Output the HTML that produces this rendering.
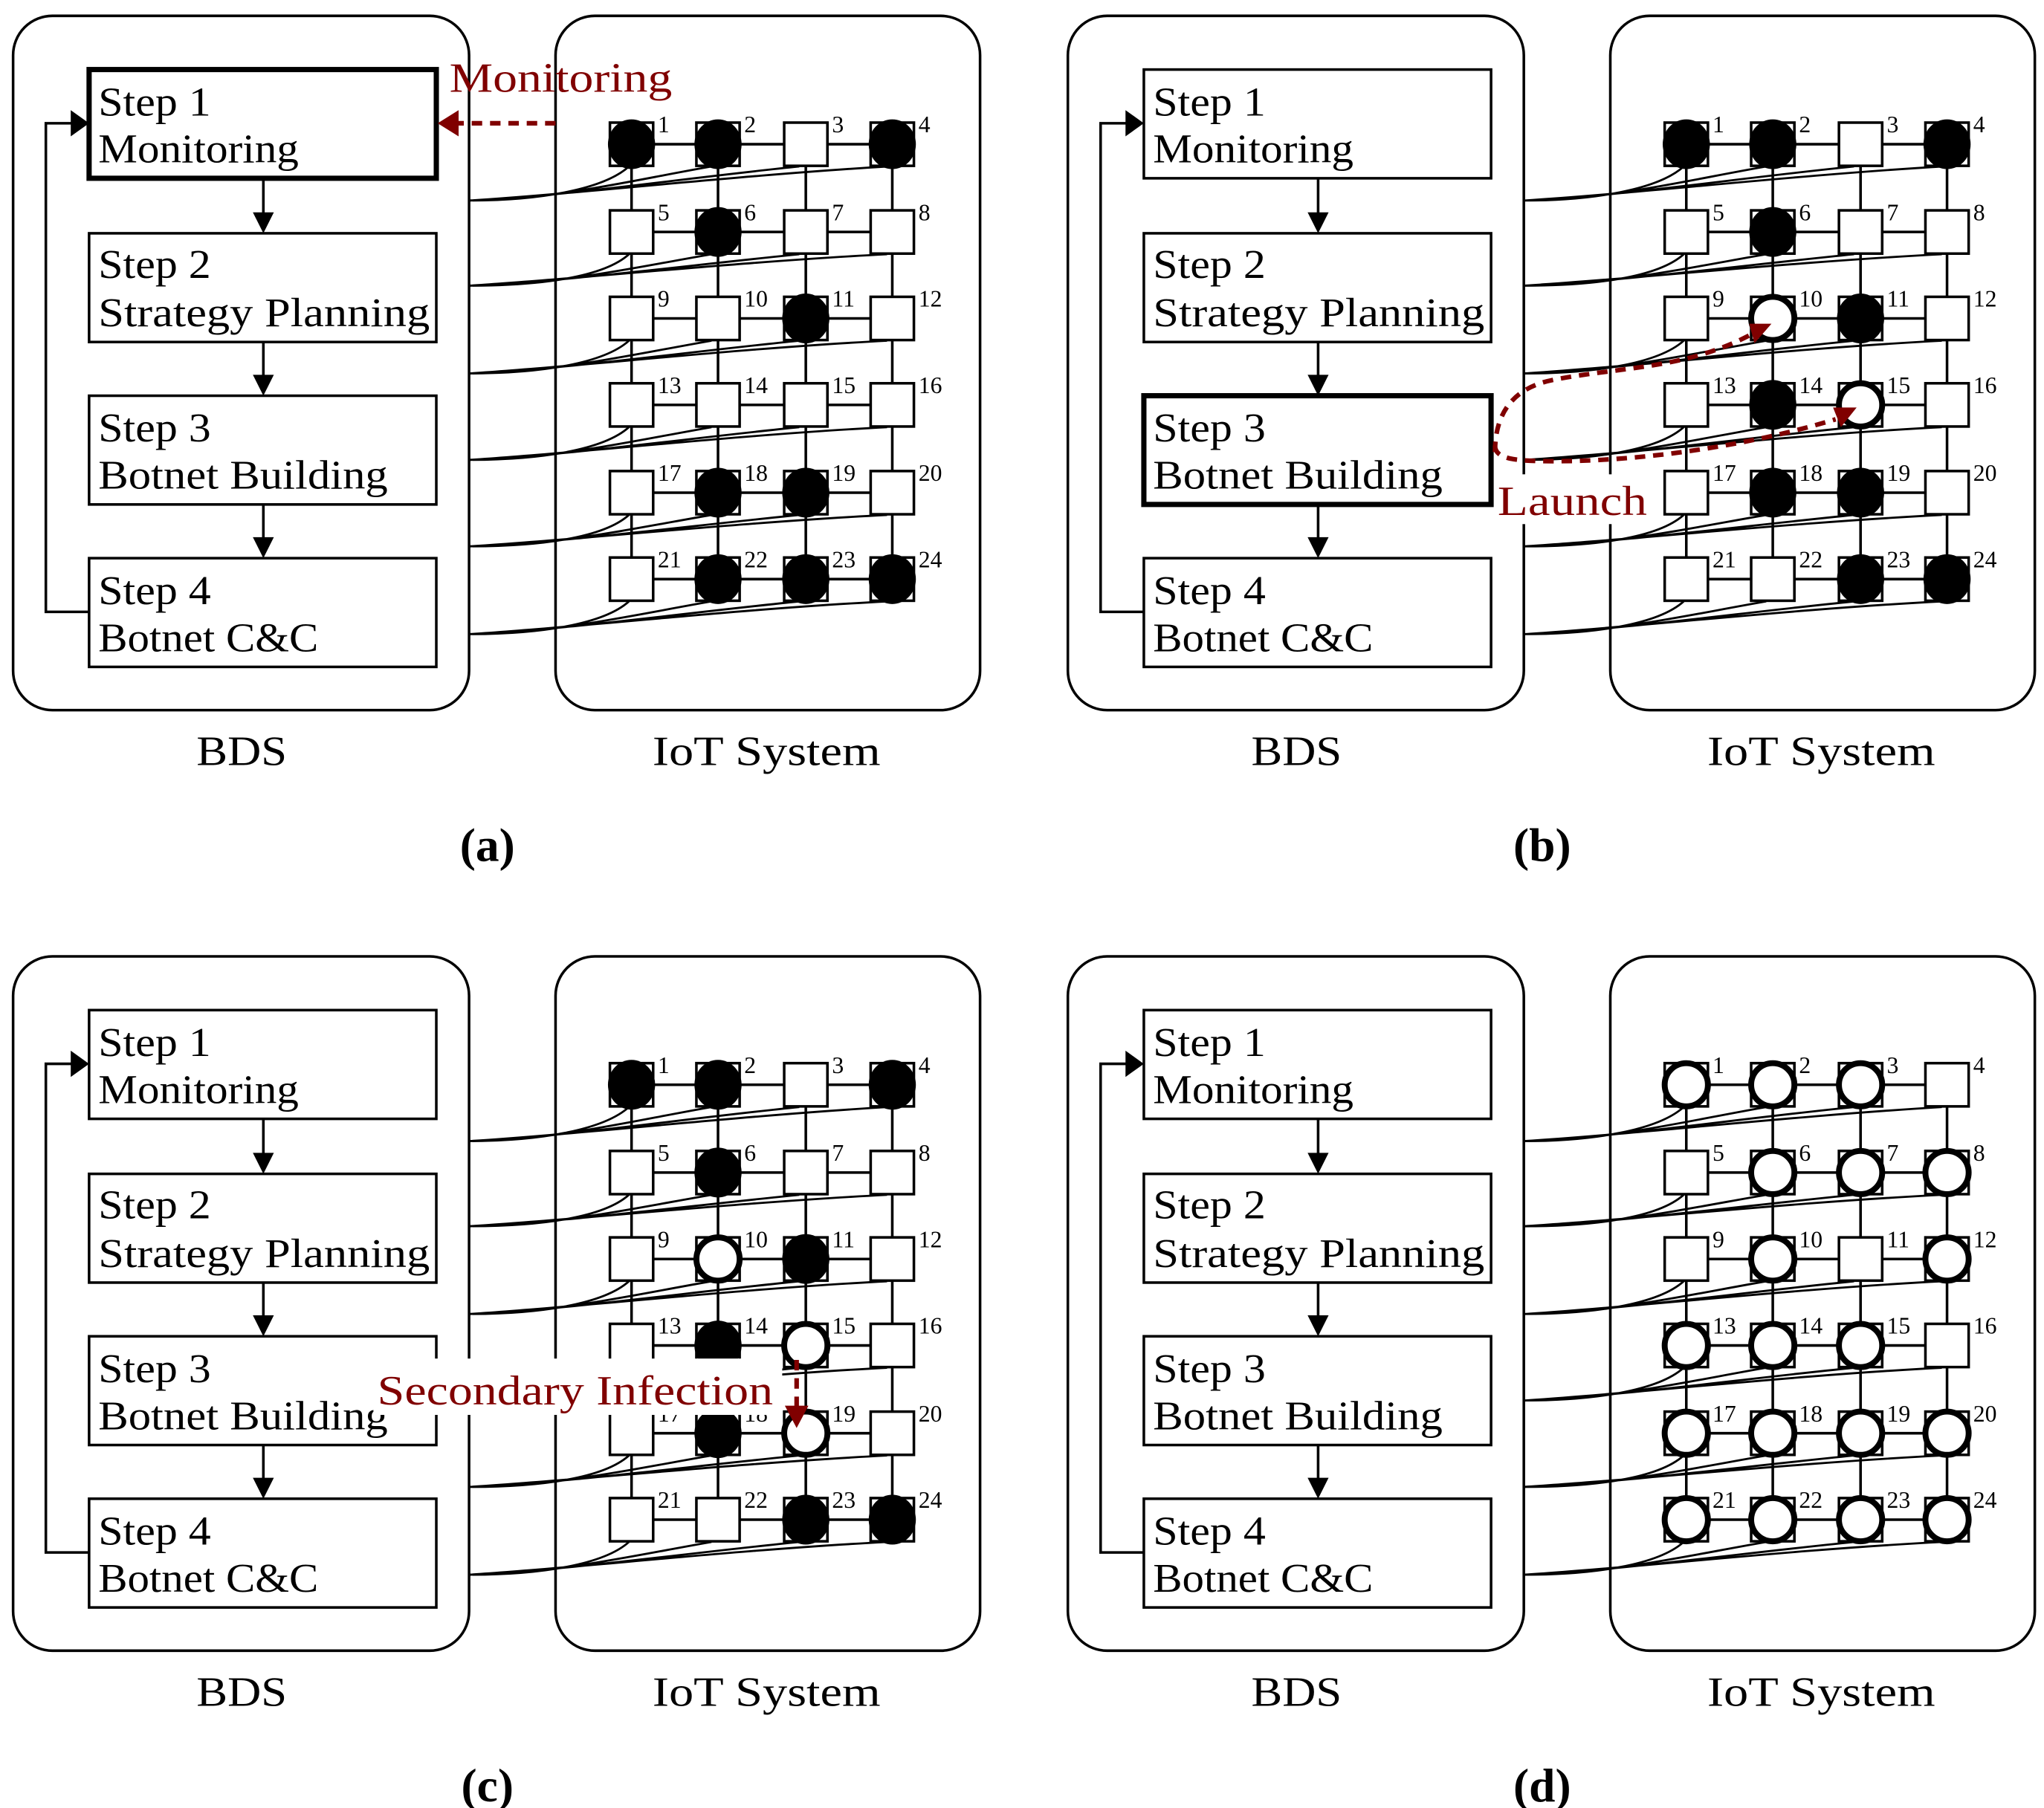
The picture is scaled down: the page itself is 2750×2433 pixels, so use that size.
<!DOCTYPE html>
<html><head><meta charset="utf-8"><style>
html,body{margin:0;padding:0;background:#fff}
svg{display:block}
text{font-family:"Liberation Serif",serif}
.n{font-size:18px}
.s{font-size:31px}
</style></head><body>
<svg width="2750" height="2433" viewBox="0 0 1560 1380" xmlns="http://www.w3.org/2000/svg">
<defs>
<g id="sq"><rect x="-16.5" y="-16.5" width="33" height="33" fill="#fff" stroke="#000" stroke-width="2"/></g>
<g id="fc"><rect x="-16.5" y="-16.5" width="33" height="33" fill="#fff" stroke="#000" stroke-width="2"/><ellipse rx="18" ry="19" fill="#000"/></g>
<g id="oc"><rect x="-16.5" y="-16.5" width="33" height="33" fill="#fff" stroke="#000" stroke-width="2"/><circle r="16.5" fill="#fff" stroke="#000" stroke-width="4.5"/></g>
<g id="base" fill="none" stroke="#000" stroke-width="2">
<rect x="10" y="12" width="348" height="530" rx="30"/>
<rect x="424" y="12" width="324" height="530" rx="30"/>
<rect x="68" y="178" width="265" height="83" fill="#fff"/>
<rect x="68" y="426" width="265" height="83" fill="#fff"/>
<line x1="201" y1="136" x2="201" y2="165"/><polygon points="193,162 209,162 201,178" fill="#000" stroke="none"/>
<line x1="201" y1="261" x2="201" y2="289"/><polygon points="193,286 209,286 201,302" fill="#000" stroke="none"/>
<line x1="201" y1="385" x2="201" y2="413"/><polygon points="193,410 209,410 201,426" fill="#000" stroke="none"/>
<polyline points="68,467 35,467 35,94 56,94"/><polygon points="54,84 54,104 68,94" fill="#000" stroke="none"/>
<path d="M482 110H681M482 177H681M482 243H681M482 309H681M482 376H681M482 442H681M482 110V442M548 110V442M615 110V442M681 110V442"/>
<g stroke-width="1.6">
<path d="M358 153C410 153 460 145 480 127M358 153C420 153 480 138 543 127M358 153C430 150 520 136 610 127M358 153C440 148 560 134 677 127"/>
<path d="M358 218C410 218 460 212 480 194M358 218C420 218 480 205 543 194M358 218C430 215 520 203 610 194M358 218C440 213 560 200 677 194"/>
<path d="M358 285C410 285 460 278 480 260M358 285C420 285 480 271 543 260M358 285C430 282 520 269 610 260M358 285C440 280 560 266 677 260"/>
<path d="M358 351C410 351 460 344 480 326M358 351C420 351 480 337 543 326M358 351C430 348 520 335 610 326M358 351C440 346 560 332 677 326"/>
<path d="M358 417C410 417 460 411 480 393M358 417C420 417 480 404 543 393M358 417C430 414 520 402 610 393M358 417C440 412 560 399 677 393"/>
<path d="M358 484C410 484 460 477 480 459M358 484C420 484 480 470 543 459M358 484C430 481 520 468 610 459M358 484C440 479 560 465 677 459"/>
</g>
</g>
</defs>

<!-- ============ (a) ============ -->
<g>
<use href="#base"/>
<rect x="68" y="53" width="265" height="83" fill="#fff" stroke="#000" stroke-width="4"/>
<rect x="68" y="302" width="265" height="83" fill="#fff" stroke="#000" stroke-width="2"/>
<text class="s" x="75" y="88" textLength="86" lengthAdjust="spacingAndGlyphs">Step 1</text><text class="s" x="75" y="124" textLength="153" lengthAdjust="spacingAndGlyphs">Monitoring</text>
<text class="s" x="75" y="212" textLength="86" lengthAdjust="spacingAndGlyphs">Step 2</text><text class="s" x="75" y="249" textLength="253" lengthAdjust="spacingAndGlyphs">Strategy Planning</text>
<text class="s" x="75" y="337" textLength="86" lengthAdjust="spacingAndGlyphs">Step 3</text><text class="s" x="75" y="373" textLength="221" lengthAdjust="spacingAndGlyphs">Botnet Building</text>
<text class="s" x="75" y="461" textLength="86" lengthAdjust="spacingAndGlyphs">Step 4</text><text class="s" x="75" y="497" textLength="168" lengthAdjust="spacingAndGlyphs">Botnet C&amp;C</text>
<line x1="424" y1="94" x2="348" y2="94" stroke="#800000" stroke-width="3.5" stroke-dasharray="8,6"/>
<polygon points="350,84 350,104 334,94" fill="#800000"/>
<text x="343" y="70" font-size="32" fill="#800000" textLength="170" lengthAdjust="spacingAndGlyphs">Monitoring</text>
<use href="#fc" x="482" y="110"/><use href="#fc" x="548" y="110"/><use href="#sq" x="615" y="110"/><use href="#fc" x="681" y="110"/>
<use href="#sq" x="482" y="177"/><use href="#fc" x="548" y="177"/><use href="#sq" x="615" y="177"/><use href="#sq" x="681" y="177"/>
<use href="#sq" x="482" y="243"/><use href="#sq" x="548" y="243"/><use href="#fc" x="615" y="243"/><use href="#sq" x="681" y="243"/>
<use href="#sq" x="482" y="309"/><use href="#sq" x="548" y="309"/><use href="#sq" x="615" y="309"/><use href="#sq" x="681" y="309"/>
<use href="#sq" x="482" y="376"/><use href="#fc" x="548" y="376"/><use href="#fc" x="615" y="376"/><use href="#sq" x="681" y="376"/>
<use href="#sq" x="482" y="442"/><use href="#fc" x="548" y="442"/><use href="#fc" x="615" y="442"/><use href="#fc" x="681" y="442"/>
<text x="502" y="101" class="n">1</text><text x="568" y="101" class="n">2</text><text x="635" y="101" class="n">3</text><text x="701" y="101" class="n">4</text>
<text x="502" y="168" class="n">5</text><text x="568" y="168" class="n">6</text><text x="635" y="168" class="n">7</text><text x="701" y="168" class="n">8</text>
<text x="502" y="234" class="n">9</text><text x="568" y="234" class="n">10</text><text x="635" y="234" class="n">11</text><text x="701" y="234" class="n">12</text>
<text x="502" y="300" class="n">13</text><text x="568" y="300" class="n">14</text><text x="635" y="300" class="n">15</text><text x="701" y="300" class="n">16</text>
<text x="502" y="367" class="n">17</text><text x="568" y="367" class="n">18</text><text x="635" y="367" class="n">19</text><text x="701" y="367" class="n">20</text>
<text x="502" y="433" class="n">21</text><text x="568" y="433" class="n">22</text><text x="635" y="433" class="n">23</text><text x="701" y="433" class="n">24</text>
<text x="150" y="584" font-size="32" textLength="69" lengthAdjust="spacingAndGlyphs">BDS</text>
<text x="498" y="584" font-size="32" textLength="174" lengthAdjust="spacingAndGlyphs">IoT System</text>
<text x="372" y="657" font-size="36" font-weight="bold" text-anchor="middle">(a)</text>
</g>

<!-- ============ (b) ============ -->
<g transform="translate(805,0)">
<use href="#base"/>
<rect x="68" y="53" width="265" height="83" fill="#fff" stroke="#000" stroke-width="2"/>
<rect x="68" y="302" width="265" height="83" fill="#fff" stroke="#000" stroke-width="4"/>
<text class="s" x="75" y="88" textLength="86" lengthAdjust="spacingAndGlyphs">Step 1</text><text class="s" x="75" y="124" textLength="153" lengthAdjust="spacingAndGlyphs">Monitoring</text>
<text class="s" x="75" y="212" textLength="86" lengthAdjust="spacingAndGlyphs">Step 2</text><text class="s" x="75" y="249" textLength="253" lengthAdjust="spacingAndGlyphs">Strategy Planning</text>
<text class="s" x="75" y="337" textLength="86" lengthAdjust="spacingAndGlyphs">Step 3</text><text class="s" x="75" y="373" textLength="221" lengthAdjust="spacingAndGlyphs">Botnet Building</text>
<text class="s" x="75" y="461" textLength="86" lengthAdjust="spacingAndGlyphs">Step 4</text><text class="s" x="75" y="497" textLength="168" lengthAdjust="spacingAndGlyphs">Botnet C&amp;C</text>
<use href="#fc" x="482" y="110"/><use href="#fc" x="548" y="110"/><use href="#sq" x="615" y="110"/><use href="#fc" x="681" y="110"/>
<use href="#sq" x="482" y="177"/><use href="#fc" x="548" y="177"/><use href="#sq" x="615" y="177"/><use href="#sq" x="681" y="177"/>
<use href="#sq" x="482" y="243"/><use href="#oc" x="548" y="243"/><use href="#fc" x="615" y="243"/><use href="#sq" x="681" y="243"/>
<use href="#sq" x="482" y="309"/><use href="#fc" x="548" y="309"/><use href="#oc" x="615" y="309"/><use href="#sq" x="681" y="309"/>
<use href="#sq" x="482" y="376"/><use href="#fc" x="548" y="376"/><use href="#fc" x="615" y="376"/><use href="#sq" x="681" y="376"/>
<use href="#sq" x="482" y="442"/><use href="#sq" x="548" y="442"/><use href="#fc" x="615" y="442"/><use href="#fc" x="681" y="442"/>
<text x="502" y="101" class="n">1</text><text x="568" y="101" class="n">2</text><text x="635" y="101" class="n">3</text><text x="701" y="101" class="n">4</text>
<text x="502" y="168" class="n">5</text><text x="568" y="168" class="n">6</text><text x="635" y="168" class="n">7</text><text x="701" y="168" class="n">8</text>
<text x="502" y="234" class="n">9</text><text x="568" y="234" class="n">10</text><text x="635" y="234" class="n">11</text><text x="701" y="234" class="n">12</text>
<text x="502" y="300" class="n">13</text><text x="568" y="300" class="n">14</text><text x="635" y="300" class="n">15</text><text x="701" y="300" class="n">16</text>
<text x="502" y="367" class="n">17</text><text x="568" y="367" class="n">18</text><text x="635" y="367" class="n">19</text><text x="701" y="367" class="n">20</text>
<text x="502" y="433" class="n">21</text><text x="568" y="433" class="n">22</text><text x="635" y="433" class="n">23</text><text x="701" y="433" class="n">24</text>
<rect x="338" y="362" width="116" height="38" fill="#fff"/>
<text x="338" y="393" font-size="32" fill="#800000" textLength="114" lengthAdjust="spacingAndGlyphs">Launch</text>
<g fill="none" stroke="#800000" stroke-width="3.5" stroke-dasharray="8,6">
<path d="M336 345C336 310 355 295 380 290C430 280 480 282 530 256"/>
<path d="M336 340C336 350 350 352 380 352C450 352 530 340 596 320"/>
</g>
<polygon points="530,247 547,247 534,262" fill="#800000"/>
<polygon points="594,311 612,311 600,326" fill="#800000"/>
<text x="150" y="584" font-size="32" textLength="69" lengthAdjust="spacingAndGlyphs">BDS</text>
<text x="498" y="584" font-size="32" textLength="174" lengthAdjust="spacingAndGlyphs">IoT System</text>
<text x="372" y="657" font-size="36" font-weight="bold" text-anchor="middle">(b)</text>
</g>

<!-- ============ (c) ============ -->
<g transform="translate(0,718)">
<use href="#base"/>
<rect x="68" y="53" width="265" height="83" fill="#fff" stroke="#000" stroke-width="2"/>
<rect x="68" y="302" width="265" height="83" fill="#fff" stroke="#000" stroke-width="2"/>
<text class="s" x="75" y="88" textLength="86" lengthAdjust="spacingAndGlyphs">Step 1</text><text class="s" x="75" y="124" textLength="153" lengthAdjust="spacingAndGlyphs">Monitoring</text>
<text class="s" x="75" y="212" textLength="86" lengthAdjust="spacingAndGlyphs">Step 2</text><text class="s" x="75" y="249" textLength="253" lengthAdjust="spacingAndGlyphs">Strategy Planning</text>
<text class="s" x="75" y="337" textLength="86" lengthAdjust="spacingAndGlyphs">Step 3</text><text class="s" x="75" y="373" textLength="221" lengthAdjust="spacingAndGlyphs">Botnet Building</text>
<text class="s" x="75" y="461" textLength="86" lengthAdjust="spacingAndGlyphs">Step 4</text><text class="s" x="75" y="497" textLength="168" lengthAdjust="spacingAndGlyphs">Botnet C&amp;C</text>
<use href="#fc" x="482" y="110"/><use href="#fc" x="548" y="110"/><use href="#sq" x="615" y="110"/><use href="#fc" x="681" y="110"/>
<use href="#sq" x="482" y="177"/><use href="#fc" x="548" y="177"/><use href="#sq" x="615" y="177"/><use href="#sq" x="681" y="177"/>
<use href="#sq" x="482" y="243"/><use href="#oc" x="548" y="243"/><use href="#fc" x="615" y="243"/><use href="#sq" x="681" y="243"/>
<use href="#sq" x="482" y="309"/><use href="#fc" x="548" y="309"/><use href="#oc" x="615" y="309"/><use href="#sq" x="681" y="309"/>
<use href="#sq" x="482" y="376"/><use href="#fc" x="548" y="376"/><use href="#oc" x="615" y="376"/><use href="#sq" x="681" y="376"/>
<use href="#sq" x="482" y="442"/><use href="#sq" x="548" y="442"/><use href="#fc" x="615" y="442"/><use href="#fc" x="681" y="442"/>
<text x="502" y="101" class="n">1</text><text x="568" y="101" class="n">2</text><text x="635" y="101" class="n">3</text><text x="701" y="101" class="n">4</text>
<text x="502" y="168" class="n">5</text><text x="568" y="168" class="n">6</text><text x="635" y="168" class="n">7</text><text x="701" y="168" class="n">8</text>
<text x="502" y="234" class="n">9</text><text x="568" y="234" class="n">10</text><text x="635" y="234" class="n">11</text><text x="701" y="234" class="n">12</text>
<text x="502" y="300" class="n">13</text><text x="568" y="300" class="n">14</text><text x="635" y="300" class="n">15</text><text x="701" y="300" class="n">16</text>
<text x="502" y="367" class="n">17</text><text x="568" y="367" class="n">18</text><text x="635" y="367" class="n">19</text><text x="701" y="367" class="n">20</text>
<text x="502" y="433" class="n">21</text><text x="568" y="433" class="n">22</text><text x="635" y="433" class="n">23</text><text x="701" y="433" class="n">24</text>
<rect x="285" y="319" width="312" height="43" fill="#fff"/>
<text x="288" y="354" font-size="32" fill="#800000" textLength="302" lengthAdjust="spacingAndGlyphs">Secondary Infection</text>
<line x1="608" y1="320" x2="608" y2="356" stroke="#800000" stroke-width="3.5" stroke-dasharray="8,6"/>
<polygon points="599,355 617,355 608,372" fill="#800000"/>
<text x="150" y="584" font-size="32" textLength="69" lengthAdjust="spacingAndGlyphs">BDS</text>
<text x="498" y="584" font-size="32" textLength="174" lengthAdjust="spacingAndGlyphs">IoT System</text>
<text x="372" y="657" font-size="36" font-weight="bold" text-anchor="middle">(c)</text>
</g>

<!-- ============ (d) ============ -->
<g transform="translate(805,718)">
<use href="#base"/>
<rect x="68" y="53" width="265" height="83" fill="#fff" stroke="#000" stroke-width="2"/>
<rect x="68" y="302" width="265" height="83" fill="#fff" stroke="#000" stroke-width="2"/>
<text class="s" x="75" y="88" textLength="86" lengthAdjust="spacingAndGlyphs">Step 1</text><text class="s" x="75" y="124" textLength="153" lengthAdjust="spacingAndGlyphs">Monitoring</text>
<text class="s" x="75" y="212" textLength="86" lengthAdjust="spacingAndGlyphs">Step 2</text><text class="s" x="75" y="249" textLength="253" lengthAdjust="spacingAndGlyphs">Strategy Planning</text>
<text class="s" x="75" y="337" textLength="86" lengthAdjust="spacingAndGlyphs">Step 3</text><text class="s" x="75" y="373" textLength="221" lengthAdjust="spacingAndGlyphs">Botnet Building</text>
<text class="s" x="75" y="461" textLength="86" lengthAdjust="spacingAndGlyphs">Step 4</text><text class="s" x="75" y="497" textLength="168" lengthAdjust="spacingAndGlyphs">Botnet C&amp;C</text>
<use href="#oc" x="482" y="110"/><use href="#oc" x="548" y="110"/><use href="#oc" x="615" y="110"/><use href="#sq" x="681" y="110"/>
<use href="#sq" x="482" y="177"/><use href="#oc" x="548" y="177"/><use href="#oc" x="615" y="177"/><use href="#oc" x="681" y="177"/>
<use href="#sq" x="482" y="243"/><use href="#oc" x="548" y="243"/><use href="#sq" x="615" y="243"/><use href="#oc" x="681" y="243"/>
<use href="#oc" x="482" y="309"/><use href="#oc" x="548" y="309"/><use href="#oc" x="615" y="309"/><use href="#sq" x="681" y="309"/>
<use href="#oc" x="482" y="376"/><use href="#oc" x="548" y="376"/><use href="#oc" x="615" y="376"/><use href="#oc" x="681" y="376"/>
<use href="#oc" x="482" y="442"/><use href="#oc" x="548" y="442"/><use href="#oc" x="615" y="442"/><use href="#oc" x="681" y="442"/>
<text x="502" y="101" class="n">1</text><text x="568" y="101" class="n">2</text><text x="635" y="101" class="n">3</text><text x="701" y="101" class="n">4</text>
<text x="502" y="168" class="n">5</text><text x="568" y="168" class="n">6</text><text x="635" y="168" class="n">7</text><text x="701" y="168" class="n">8</text>
<text x="502" y="234" class="n">9</text><text x="568" y="234" class="n">10</text><text x="635" y="234" class="n">11</text><text x="701" y="234" class="n">12</text>
<text x="502" y="300" class="n">13</text><text x="568" y="300" class="n">14</text><text x="635" y="300" class="n">15</text><text x="701" y="300" class="n">16</text>
<text x="502" y="367" class="n">17</text><text x="568" y="367" class="n">18</text><text x="635" y="367" class="n">19</text><text x="701" y="367" class="n">20</text>
<text x="502" y="433" class="n">21</text><text x="568" y="433" class="n">22</text><text x="635" y="433" class="n">23</text><text x="701" y="433" class="n">24</text>
<text x="150" y="584" font-size="32" textLength="69" lengthAdjust="spacingAndGlyphs">BDS</text>
<text x="498" y="584" font-size="32" textLength="174" lengthAdjust="spacingAndGlyphs">IoT System</text>
<text x="372" y="657" font-size="36" font-weight="bold" text-anchor="middle">(d)</text>
</g>
</svg>
</body></html>
